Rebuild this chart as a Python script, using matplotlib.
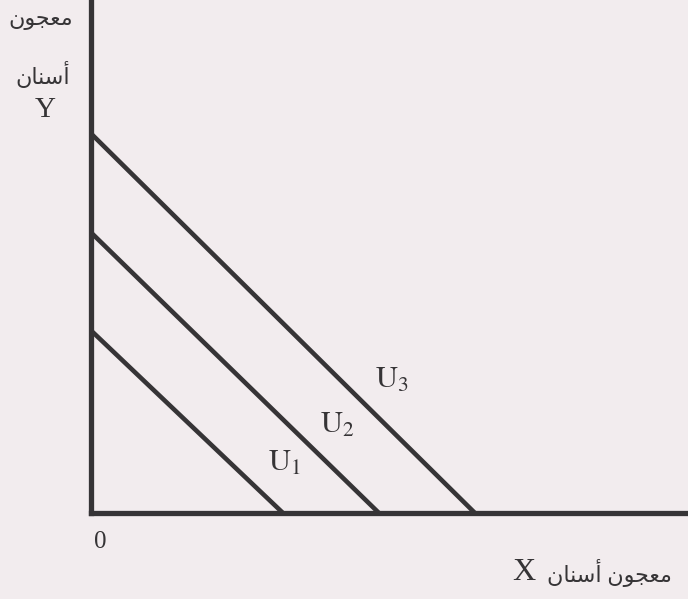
import matplotlib
matplotlib.use("Agg")
import matplotlib.pyplot as plt

plt.rcParams['mathtext.fontset'] = 'stix'

# intercepts of the three indifference lines (perfect substitutes)
curve_names = ['U1', 'U2', 'U3']
x_intercepts = [2.0, 3.0, 4.0]
y_intercepts = [1.9, 2.92, 3.95]
label_pos = [(2.02, 0.53), (2.57, 0.92), (3.13, 1.39)]

y_word1 = 'معجون'
y_word2 = 'أسنان'
x_title = ['معجون', 'أسنان']

# arabic presentation forms: isolated, final, initial, medial
forms = {
    'ا': ('\uFE8D', '\uFE8E', None, None),
    'أ': ('\uFE83', '\uFE84', None, None),
    'و': ('\uFEED', '\uFEEE', None, None),
    'س': ('\uFEB1', '\uFEB2', '\uFEB3', '\uFEB4'),
    'ن': ('\uFEE5', '\uFEE6', '\uFEE7', '\uFEE8'),
    'م': ('\uFEE1', '\uFEE2', '\uFEE3', '\uFEE4'),
    'ع': ('\uFEC9', '\uFECA', '\uFECB', '\uFECC'),
    'ج': ('\uFE9D', '\uFE9E', '\uFE9F', '\uFEA0'),
}


def shape(word):
    out = []
    for i, ch in enumerate(word):
        f = forms[ch]
        prev = i > 0 and forms[word[i - 1]][2] is not None
        nxt = i < len(word) - 1 and f[2] is not None
        if prev and nxt:
            out.append(f[3])
        elif prev:
            out.append(f[1])
        elif nxt:
            out.append(f[2])
        else:
            out.append(f[0])
    return ''.join(reversed(out))


bg = '#f2ecee'
ink = '#363436'
fam = ['Liberation Serif', 'DejaVu Sans']

fig = plt.figure(figsize=(6.88, 5.99), dpi=100, facecolor=bg)
ax = fig.add_axes([91 / 688, 86 / 599, 597 / 688, 513 / 599])
ax.set_facecolor(bg)
ax.set_xlim(0, 6.22)
ax.set_ylim(0, 5.34)

for name, xi, yi, (lx, ly) in zip(curve_names, x_intercepts, y_intercepts, label_pos):
    ax.plot([0, xi], [yi, 0], color=ink, lw=3.3, solid_capstyle='butt')
    ax.text(lx, ly, r'$\mathrm{U}_{%s}$' % name[1], fontsize=22, color=ink,
            ha='center', va='center')

for s in ['top', 'right']:
    ax.spines[s].set_visible(False)
for s in ['left', 'bottom']:
    ax.spines[s].set_color(ink)
    ax.spines[s].set_linewidth(3.8)
ax.set_xticks([])
ax.set_yticks([])

fig.text(41 / 688, 1 - 21 / 599, shape(y_word1), family=fam, fontsize=16,
         color=ink, ha='center', va='center')
fig.text(43 / 688, 1 - 76 / 599, shape(y_word2), family=fam, fontsize=16,
         color=ink, ha='center', va='center')
fig.text(45 / 688, 1 - 110 / 599, 'Y', family=fam, fontsize=21,
         color=ink, ha='center', va='center')
fig.text(100 / 688, 1 - 542 / 599, '0', family=fam, fontsize=18,
         color=ink, ha='center', va='center')
fig.text(512 / 688, 1 - 573 / 599, 'X', family=fam, fontsize=23,
         color=ink, ha='left', va='center')
fig.text(672 / 688, 1 - 573 / 599, shape(x_title[1]) + ' ' + shape(x_title[0]),
         family=fam, fontsize=16, color=ink, ha='right', va='center')

fig.savefig('out.png', dpi=100, facecolor=bg)
